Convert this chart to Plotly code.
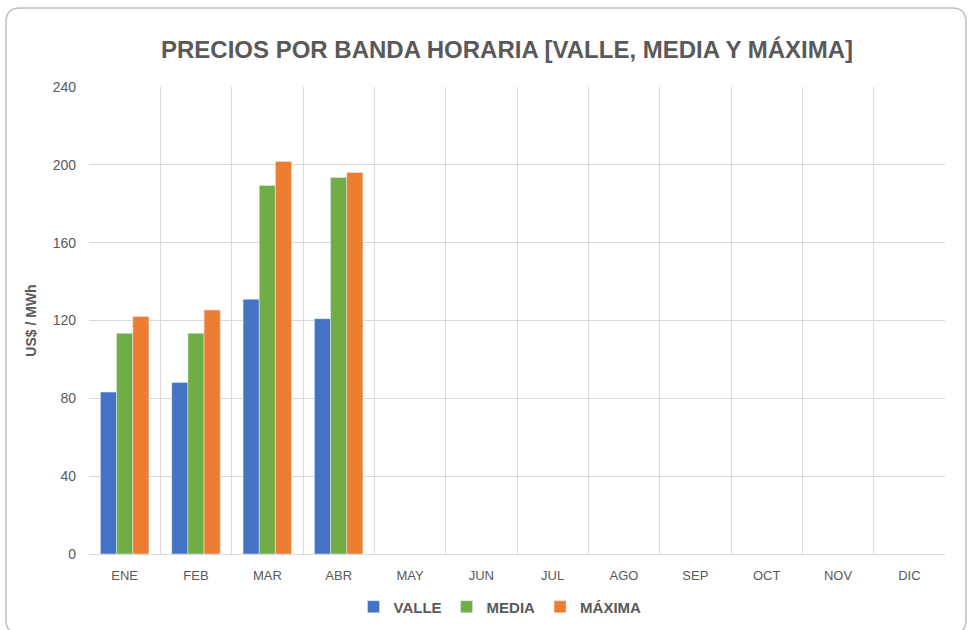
import plotly.graph_objects as go

months = ["ENE", "FEB", "MAR", "ABR", "MAY", "JUN", "JUL", "AGO", "SEP", "OCT", "NOV", "DIC"]
valle = [83.2, 88.1, 130.9, 120.9, None, None, None, None, None, None, None, None]
media = [113.4, 113.4, 189.4, 193.5, None, None, None, None, None, None, None, None]
maxima = [122.0, 125.4, 201.7, 196.1, None, None, None, None, None, None, None, None]
y_ticks = [0, 40, 80, 120, 160, 200, 240]

W, H = 970, 630
ML, MR, MT, MB = 89, 25, 87, 76
PW, PH = W - ML - MR, H - MT - MB

def px(x):
    return (x - ML) / PW

def py(y):
    return (H - MB - y) / PH

FONT = "Liberation Sans Narrow, Arial Narrow, Liberation Sans, Arial, sans-serif"
GRAY = "#595959"

fig = go.Figure()
fig.add_trace(go.Bar(name="<b>VALLE</b>", x=months, y=valle, marker_color="#4472C4"))
fig.add_trace(go.Bar(name="<b>MEDIA</b>", x=months, y=media, marker_color="#70AD47"))
fig.add_trace(go.Bar(name="<b>MÁXIMA</b>", x=months, y=maxima, marker_color="#ED7D31"))
# invisible trace driving a linear overlay axis used for category-boundary gridlines
fig.add_trace(go.Scatter(x=[-0.5, 11.5], y=[0, 0], xaxis="x2", mode="lines",
                         line=dict(width=0), showlegend=False, hoverinfo="skip"))

# rounded frame
l, r, t, b, rad = 6, 966, 8, 634, 14
path = (f"M {px(l+rad)} {py(t)} L {px(r-rad)} {py(t)} Q {px(r)} {py(t)} {px(r)} {py(t+rad)} "
        f"L {px(r)} {py(b-rad)} Q {px(r)} {py(b)} {px(r-rad)} {py(b)} "
        f"L {px(l+rad)} {py(b)} Q {px(l)} {py(b)} {px(l)} {py(b-rad)} "
        f"L {px(l)} {py(t+rad)} Q {px(l)} {py(t)} {px(l+rad)} {py(t)} Z")

fig.update_layout(
    width=W, height=H,
    margin=dict(l=ML, r=MR, t=MT, b=MB, autoexpand=False),
    paper_bgcolor="white", plot_bgcolor="white",
    barmode="group", bargap=0.32, bargroupgap=0,
    title=dict(text="<b>PRECIOS POR BANDA HORARIA [VALLE, MEDIA Y MÁXIMA]</b>",
               x=507 / W, xanchor="center", xref="container",
               y=1 - 50 / H, yanchor="middle", yref="container",
               font=dict(family=FONT, size=24, color=GRAY)),
    font=dict(family=FONT, color=GRAY),
    xaxis=dict(showgrid=False, tickfont=dict(size=13, color=GRAY), ticks="",
               showline=False, zeroline=False, ticklabelstandoff=12),
    xaxis2=dict(overlaying="x", range=[-0.5, 11.5], tick0=-0.5, dtick=1, showgrid=True,
                gridcolor="#d9d9d9", gridwidth=1, showticklabels=False, zeroline=False,
                ticks=""),
    yaxis=dict(range=[0, 240], tickvals=y_ticks, showgrid=True, gridcolor="#d9d9d9",
               zeroline=True, zerolinecolor="#d9d9d9", zerolinewidth=1,
               tickfont=dict(size=14, color=GRAY), ticks="", ticklabelstandoff=12,
               title=dict(text="<b>US$ / MWh</b>", font=dict(size=14, color=GRAY), standoff=12)),
    legend=dict(orientation="h", x=500 / W, xanchor="center", xref="container",
                y=1 - 607 / H, yanchor="middle", yref="container",
                font=dict(size=15, color=GRAY, family=FONT),
                itemwidth=30, traceorder="normal"),
    shapes=[dict(type="path", path=path, xref="paper", yref="paper",
                 line=dict(color="#bfbfbf", width=1.5), layer="below")],
)

fig.write_html("out.html", config={"displayModeBar": False},
               post_script="document.body.style.margin='0';")
